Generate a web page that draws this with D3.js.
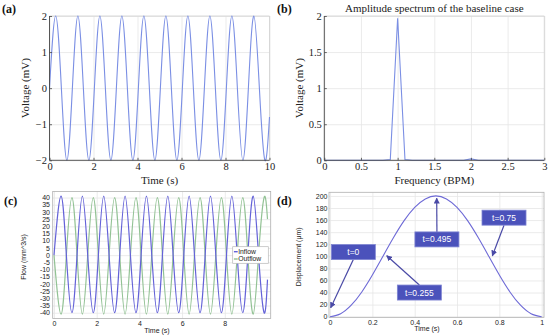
<!DOCTYPE html>
<html lang="en">
<head>
    <meta charset="UTF-8">
    <title>Voltage, spectrum, flow and displacement</title>
    <script src="https://d3js.org/d3.v7.min.js"></script>
    <style>
        body { margin: 0; background: #fff; }
        svg { display: block; }
        .serif text, text.serif { font-family: "Liberation Serif", "DejaVu Serif", serif; fill: #222; }
        .sans text, text.sans { font-family: "Liberation Sans", "DejaVu Sans", sans-serif; fill: #222; }
        .grid line { stroke: #e6e6e6; stroke-width: 0.8px; }
        .grid path { display: none; }
        .axis path { display: none; }
        .line { fill: none; }
        .tag { font-family: "Liberation Serif", "DejaVu Serif", serif; font-weight: bold; font-size: 12px; fill: #111; }
    </style>
</head>
<body>
<div id="chart"></div>
<script>
    // (a) voltage trace - peaks, zero crossings and troughs
    const voltTime = [0, 0.28, 0.54, 0.79, 1.04, 1.29, 1.54, 1.79, 2.04, 2.29, 2.54, 2.79, 3.04, 3.29, 3.54, 3.79,
        4.04, 4.29, 4.54, 4.79, 5.04, 5.29, 5.54, 5.79, 6.04, 6.29, 6.54, 6.79, 7.04, 7.29, 7.54, 7.79,
        8.04, 8.29, 8.54, 8.79, 9.04, 9.29, 9.54, 9.79, 10];
    const voltValue = [0, 2, 0, -2, 0, 2, 0, -2, 0, 2, 0, -2, 0, 2, 0, -2,
        0, 2, 0, -2, 0, 2, 0, -2, 0, 2, 0, -2, 0, 2, 0, -2,
        0, 2, 0, -2, 0, 2, 0, -2, -0.8];
    const voltXTicks = [0, 2, 4, 6, 8, 10];
    const voltYTicks = [-2, -1, 0, 1, 2];

    // (b) amplitude spectrum
    const specFreq = [0, 0.1, 0.2, 0.3, 0.4, 0.5, 0.6, 0.7, 0.8, 0.9, 1, 1.1, 1.2, 1.3, 1.4, 1.5,
        1.6, 1.7, 1.8, 1.9, 2, 2.1, 2.2, 2.3, 2.4, 2.5, 2.6, 2.7, 2.8, 2.9, 3];
    const specAmp = [0, 0, 0, 0, 0, 0, 0, 0, 0, 0.01, 1.97, 0.01, 0, 0, 0, 0,
        0, 0, 0, 0, 0.02, 0, 0, 0, 0, 0, 0, 0, 0, 0, 0];
    const specXTicks = [0, 0.5, 1, 1.5, 2, 2.5, 3];
    const specYTicks = [0, 0.5, 1, 1.5, 2];

    // (c) inflow / outflow
    const flowTime = [0, 0.33, 0.58, 0.84, 1.08, 1.33, 1.58, 1.84, 2.08, 2.33, 2.58, 2.84, 3.08, 3.33, 3.58, 3.84,
        4.08, 4.33, 4.58, 4.84, 5.08, 5.33, 5.58, 5.84, 6.08, 6.33, 6.58, 6.84, 7.08, 7.33, 7.58, 7.84,
        8.08, 8.33, 8.58, 8.84, 9.08, 9.33, 9.58, 9.84, 10];
    const inflow = [0, 41, 0, -40, 0, 41, 0, -40, 0, 41, 0, -40, 0, 41, 0, -40,
        0, 41, 0, -40, 0, 41, 0, -40, 0, 41, 0, -40, 0, 41, 0, -40,
        0, 41, 0, -40, 0, 41, 0, -40, -17];
    const outflow = [0, -41, 0, 40, 0, -41, 0, 40, 0, -41, 0, 40, 0, -41, 0, 40,
        0, -41, 0, 40, 0, -41, 0, 40, 0, -41, 0, 40, 0, -41, 0, 40,
        0, -41, 0, 40, 0, -41, 0, 40, 25];
    const flowSeries = ["Inflow", "Outflow"];
    const flowXTicks = [0, 2, 4, 6, 8];
    const flowYTicks = [-40, -35, -30, -25, -20, -15, -10, -5, 0, 5, 10, 15, 20, 25, 30, 35, 40];

    // (d) displacement over one beat
    const dispTime = [0, 0.05, 0.1, 0.15, 0.2, 0.25, 0.3, 0.35, 0.4, 0.45, 0.5,
        0.55, 0.6, 0.65, 0.7, 0.75, 0.8, 0.85, 0.9, 0.95, 1];
    const dispValue = [0, 5, 19, 41, 69, 100, 131, 159, 181, 195, 200,
        195, 181, 159, 131, 100, 69, 41, 19, 5, 0];
    const dispXTicks = [0, 0.2, 0.4, 0.6, 0.8, 1];
    const dispYTicks = [0, 20, 40, 60, 80, 100, 120, 140, 160, 180, 200];
    // callouts: label, point the arrow hits, and where the label box sits (data units)
    const calloutLabel = ["t=0", "t=0.255", "t=0.495", "t=0.75"];
    const calloutTime = [0.003, 0.268, 0.504, 0.767];
    const calloutValue = [15, 101, 196, 101];
    const calloutBoxTime = [0.11, 0.422, 0.505, 0.822];
    const calloutBoxValue = [107, 40, 128, 164];

    const svg = d3.select("#chart").append("svg")
        .attr("width", 550)
        .attr("height", 336);

    svg.append("defs").append("marker")
        .attr("id", "arrow")
        .attr("viewBox", "0 0 8 8")
        .attr("refX", 7).attr("refY", 4)
        .attr("markerWidth", 6).attr("markerHeight", 6)
        .attr("markerUnits", "userSpaceOnUse")
        .attr("orient", "auto")
        .append("path")
        .attr("d", "M0,0 L8,4 L0,8 z")
        .attr("fill", "#4a4aa6");

    const fmt = d3.format("~g");

    // Shared helper for grid lines
    function drawGrid(g, x, y, xTicks, yTicks, l, r, t, b) {
        g.append("g").attr("class", "grid")
            .attr("transform", `translate(0,${b})`)
            .call(d3.axisBottom(x).tickValues(xTicks).tickSize(-(b - t)).tickFormat(""));
        g.append("g").attr("class", "grid")
            .attr("transform", `translate(${l},0)`)
            .call(d3.axisLeft(y).tickValues(yTicks).tickSize(-(r - l)).tickFormat(""));
    }

    // ---------- MATLAB style panels (a) and (b) ----------
    function matlabPanel(opts) {
        const { l, r, t, b, xDomain, yDomain, xTicks, yTicks, xs, ys, color, xLabel, yLabel, title, tag } = opts;
        const g = svg.append("g").attr("class", "serif");
        const x = d3.scaleLinear().domain(xDomain).range([l, r]);
        const y = d3.scaleLinear().domain(yDomain).range([b, t]);

        drawGrid(g, x, y, xTicks, yTicks, l, r, t, b);

        // light top/right edges, dark left/bottom axes
        g.append("path")
            .attr("d", `M${l},${t}H${r}V${b}`)
            .attr("fill", "none").attr("stroke", "#cfcfcf").attr("stroke-width", 0.8);

        const line = d3.line()
            .x((d, i) => x(xs[i]))
            .y((d, i) => y(ys[i]))
            .curve(opts.curve || d3.curveLinear);
        g.append("path")
            .datum(xs)
            .attr("class", "line")
            .attr("stroke", color)
            .attr("stroke-width", 1.1)
            .attr("d", line);

        g.append("path")
            .attr("d", `M${l},${t}V${b}H${r}`)
            .attr("fill", "none").attr("stroke", "#444").attr("stroke-width", 0.9);

        g.append("g").attr("class", "axis")
            .attr("transform", `translate(0,${b})`)
            .call(d3.axisBottom(x).tickValues(xTicks).tickFormat(fmt)
                .tickSizeInner(-2.5).tickSizeOuter(0).tickPadding(2.5));
        g.append("g").attr("class", "axis")
            .attr("transform", `translate(${l},0)`)
            .call(d3.axisLeft(y).tickValues(yTicks).tickFormat(fmt)
                .tickSizeInner(-2.5).tickSizeOuter(0).tickPadding(2.5));
        g.selectAll(".axis").attr("font-family", "Liberation Serif, serif").attr("font-size", 10.5);
        g.selectAll(".axis line").attr("stroke", "#444").attr("stroke-width", 0.8);

        g.append("text")
            .attr("x", (l + r) / 2).attr("y", b + 24)
            .attr("text-anchor", "middle").attr("font-size", 11)
            .text(xLabel);
        g.append("text")
            .attr("transform", `translate(${l - 21},${(t + b) / 2}) rotate(-90)`)
            .attr("text-anchor", "middle").attr("font-size", 11)
            .text(yLabel);
        if (title) {
            g.append("text")
                .attr("x", (l + r) / 2).attr("y", t - 4)
                .attr("text-anchor", "middle").attr("font-size", 11)
                .text(title);
        }
        svg.append("text").attr("class", "tag").attr("x", tag[1]).attr("y", 13).text(tag[0]);
    }

    matlabPanel({
        l: 49.5, r: 269.5, t: 16, b: 160.3,
        xDomain: [0, 10], yDomain: [-2, 2],
        xTicks: voltXTicks, yTicks: voltYTicks,
        xs: voltTime, ys: voltValue, curve: d3.curveNatural,
        color: "#7b8fe4",
        xLabel: "Time (s)", yLabel: "Voltage (mV)", tag: ["(a)", 2]
    });

    matlabPanel({
        l: 324.3, r: 544.3, t: 16, b: 160.3,
        xDomain: [0, 3], yDomain: [0, 2],
        xTicks: specXTicks, yTicks: specYTicks,
        xs: specFreq, ys: specAmp,
        color: "#7b8fe4",
        xLabel: "Frequency (BPM)", yLabel: "Voltage (mV)",
        title: "Amplitude spectrum of the baseline case", tag: ["(b)", 277]
    });

    // ---------- framed panels (c) and (d) ----------
    function framedPanel(opts) {
        const { l, r, t, b, xDomain, yDomain, xTicks, yTicks, xLabel, yLabel, xLabelX, yLabelX, tag } = opts;
        const g = svg.append("g").attr("class", "sans");
        const x = d3.scaleLinear().domain(xDomain).range([l, r]);
        const y = d3.scaleLinear().domain(yDomain).range([b, t]);

        drawGrid(g, x, y, xTicks, yTicks, l, r, t, b);
        g.selectAll(".grid line").attr("stroke", "#ececec");

        g.append("g").attr("class", "axis")
            .attr("transform", `translate(0,${b})`)
            .call(d3.axisBottom(x).tickValues(xTicks).tickSize(0).tickPadding(2.5).tickFormat(d => String(d)));
        g.append("g").attr("class", "axis")
            .attr("transform", `translate(${l},0)`)
            .call(d3.axisLeft(y).tickValues(yTicks).tickSize(0).tickPadding(opts.yPad).tickFormat(d => String(d)));
        g.selectAll(".axis").attr("font-family", "Liberation Sans, sans-serif").attr("font-size", 7);
        g.selectAll(".axis text").attr("fill", "#333");

        g.append("text")
            .attr("x", xLabelX).attr("y", b + 14)
            .attr("text-anchor", "middle").attr("font-size", 7)
            .text(xLabel);
        g.append("text")
            .attr("transform", `translate(${yLabelX},${(t + b) / 2 + 2}) rotate(-90)`)
            .attr("text-anchor", "middle").attr("font-size", 7)
            .text(yLabel);

        svg.append("text").attr("class", "tag").attr("x", tag[1]).attr("y", 205).text(tag[0]);
        return { g, x, y, frame: () => g.append("rect")
            .attr("x", l).attr("y", t).attr("width", r - l).attr("height", b - t)
            .attr("fill", "none").attr("stroke", "#b0b0b0").attr("stroke-width", 0.8) };
    }

    // Panel (c)
    const c = framedPanel({
        l: 52.7, r: 270.7, t: 191.5, b: 318.5,
        xDomain: [-0.06, 10.15], yDomain: [-44, 44.2],
        xTicks: flowXTicks, yTicks: flowYTicks, yPad: 2.7,
        xLabel: "Time (s)", yLabel: "Flow (mm^3/s)", xLabelX: 157, yLabelX: 26,
        tag: ["(c)", 4]
    });
    const flowColor = d3.scaleOrdinal().domain(flowSeries).range(["#6462d8", "#92c294"]);
    [outflow, inflow].forEach((vals, k) => {
        const name = k === 0 ? "Outflow" : "Inflow";
        c.g.append("path")
            .datum(flowTime)
            .attr("class", "line")
            .attr("stroke", flowColor(name))
            .attr("stroke-width", 1.2)
            .attr("d", d3.line()
                .x((d, i) => c.x(flowTime[i]))
                .y((d, i) => c.y(vals[i]))
                .curve(d3.curveNatural));
    });
    c.frame();

    // legend for (c)
    const legend = c.g.append("g").attr("transform", "translate(232.7,246.7)");
    legend.append("rect")
        .attr("width", 35.6).attr("height", 16.6)
        .attr("fill", "#fff").attr("stroke", "#b8b8b8").attr("stroke-width", 0.7);
    flowSeries.forEach((name, i) => {
        const row = legend.append("g").attr("transform", `translate(0,${5 + i * 7.3})`);
        row.append("line")
            .attr("x1", 1.2).attr("x2", 5)
            .attr("stroke", flowColor(name)).attr("stroke-width", 1.4);
        row.append("text")
            .attr("x", 5.5).attr("dy", "0.35em")
            .attr("font-size", 6.8).attr("fill", "#333")
            .text(name);
    });

    // Panel (d)
    const dPanel = framedPanel({
        l: 329, r: 544, t: 192.3, b: 317.3,
        xDomain: [-0.005, 1.011], yDomain: [-1, 206],
        xTicks: dispXTicks, yTicks: dispYTicks, yPad: 1.5,
        xLabel: "Time (s)", yLabel: "Displacement (\u03bcm)", xLabelX: 427, yLabelX: 301,
        tag: ["(d)", 277]
    });
    dPanel.frame();
    dPanel.g.append("path")
        .datum(dispTime)
        .attr("class", "line")
        .attr("stroke", "#6e6ad6")
        .attr("stroke-width", 1.1)
        .attr("d", d3.line()
            .x((d, i) => dPanel.x(dispTime[i]))
            .y((d, i) => dPanel.y(dispValue[i]))
            .curve(d3.curveNatural));

    // callout boxes with arrows
    const boxW = 44, boxH = 15;
    calloutLabel.forEach((label, i) => {
        const cx = dPanel.x(calloutBoxTime[i]);
        const cy = dPanel.y(calloutBoxValue[i]);
        const tx = dPanel.x(calloutTime[i]);
        const ty = dPanel.y(calloutValue[i]);
        const sy = ty < cy ? cy - boxH / 2 : cy + boxH / 2;
        dPanel.g.append("line")
            .attr("x1", cx).attr("y1", sy)
            .attr("x2", tx).attr("y2", ty)
            .attr("stroke", "#4a4aa6").attr("stroke-width", 1.2)
            .attr("marker-end", "url(#arrow)");
        dPanel.g.append("rect")
            .attr("x", cx - boxW / 2).attr("y", cy - boxH / 2)
            .attr("width", boxW).attr("height", boxH)
            .attr("fill", "#4b52bb").attr("stroke", "#7e84d2").attr("stroke-width", 0.8);
        dPanel.g.append("text")
            .attr("x", cx).attr("y", cy).attr("dy", "0.35em")
            .attr("text-anchor", "middle")
            .attr("font-size", 8.5)
            .style("fill", "#fff")
            .text(label);
    });
</script>
</body>
</html>
